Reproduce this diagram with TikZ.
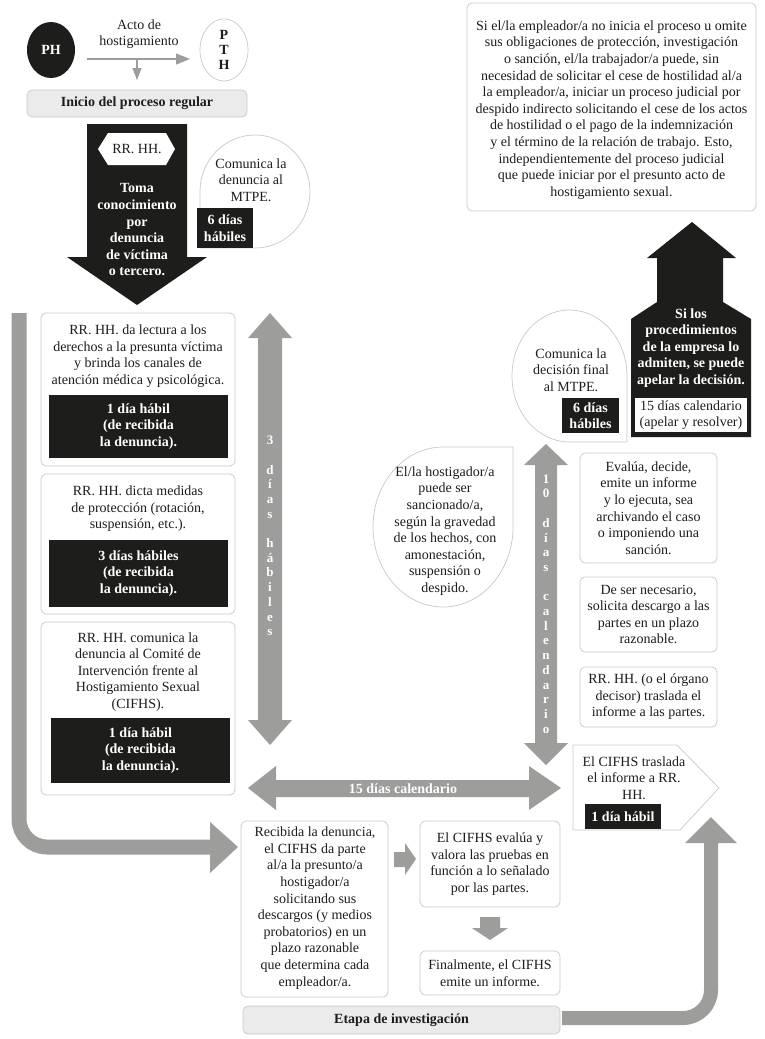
\documentclass[tikz,border=0pt]{standalone}
\usepackage{fontspec}
\setmainfont{Liberation Serif}
\usetikzlibrary{arrows.meta,shapes.geometric}
\definecolor{blk}{HTML}{1D1D1B}
\definecolor{arr}{HTML}{9D9D9C}
\definecolor{brd}{HTML}{C8C8C8}
\definecolor{lgray}{HTML}{EBEBEB}
\definecolor{txtc}{HTML}{1D1D1B}
\newcommand\fsz{\fontsize{14}{16.6}\selectfont}
\begin{document}
\begin{tikzpicture}[x=1pt,y=-1pt,
  every node/.style={inner sep=0pt, outer sep=0pt},
  box/.style={draw=brd, line width=0.7pt, rounded corners=5pt, fill=white},
  gbox/.style={box, fill=lgray},
  kbox/.style={fill=blk, text=white, font=\bfseries\fsz, align=center},
  t/.style={font=\fsz, align=center, text=txtc},
  wt/.style={font=\bfseries\fsz, align=center, text=white},
  vl/.style={font=\bfseries\fontsize{13}{14.7}\selectfont, align=center, text=white},
  shapeline/.style={draw=brd, line width=0.7pt, fill=white},
  thin arrow/.style={line width=1.2pt, draw=arr},
]
\useasboundingbox (0,0) rectangle (764,1039);

% ---------- top ----------
\node[ellipse, fill=blk, minimum width=48, minimum height=56, text=white, font=\bfseries\fsz] (PH) at (51,50) {PH};
\node[ellipse, draw=brd, line width=0.7pt, minimum width=48, minimum height=62, align=center, text=txtc, font=\bfseries\fontsize{14}{15}\selectfont] (PTH) at (224,50) {P\\T\\H};
\node[t] (acto) at (139,34) {Acto de\\hostigamiento};
\node[gbox, minimum width=220, minimum height=27, font=\bfseries\fsz, text=txtc] (inicio) at (137,103.5) {Inicio del proceso regular};
\coordinate (split) at (137,59);
\draw[thin arrow, -{Triangle[length=14pt,width=11pt]}, shorten <=12pt, shorten >=10pt] (PH.east |- split) -- (PTH.west |- split);
\draw[thin arrow, -{Triangle[length=12pt,width=9pt]}, shorten >=10pt] (split) -- (inicio.north);

% ---------- black down arrow ----------
\fill[blk] (87,124) -- (187,124) -- (187,257) -- (207,257) -- (137,305) -- (67,257) -- (87,257) -- cycle;
\fill[white] (98,149) -- (108,133) -- (166,133) -- (175,149) -- (166,165) -- (108,165) -- cycle;
\node[t] (rrhh) at (137,149) {RR. HH.};
\node[wt] (toma) at (137,230) {Toma\\conocimiento\\por\\denuncia\\de víctima\\o tercero.};

% ---------- comunica la denuncia ----------
\draw[shapeline] (200,248) -- (200,191.5) arc[start angle=180, end angle=450, x radius=55, y radius=56.5] -- cycle;
\node[t] (com1) at (251,180) {Comunica la\\denuncia al\\MTPE.};
\node[kbox, minimum width=56, minimum height=40] (d6a) at (225,228) {6 días\\hábiles};

% ---------- top right ----------
\node[box, minimum width=289, minimum height=208] (tr) at (611.5,107) {};
\node[t] (trt) at (611.5,110) {Si el/la empleador/a no inicia el proceso u omite\\sus obligaciones de protección, investigación\\o sanción, el/la trabajador/a puede, sin\\necesidad de solicitar el cese de hostilidad al/a\\la empleador/a, iniciar un proceso judicial por\\despido indirecto solicitando el cese de los actos\\de hostilidad o el pago de la indemnización\\y el término de la relación de trabajo. Esto,\\independientemente del proceso judicial\\que puede iniciar por el presunto acto de\\hostigamiento sexual.};

% ---------- black up arrow ----------
\fill[blk] (692,222) -- (736,258) -- (723,258) -- (723,302) -- (751,319) -- (751,437) -- (631,437) -- (631,319) -- (657,302) -- (657,258) -- (647,258) -- cycle;
\node[wt] (silos) at (691,348) {Si los\\procedimientos\\de la empresa lo\\admiten, se puede\\apelar la decisión.};
\node[fill=white, minimum width=112, minimum height=34, t] (d15) at (691,415) {15 días calendario\\(apelar y resolver)};

% ---------- comunica la decision ----------
\draw[shapeline] (627,442) -- (569.5,442) arc[start angle=90, end angle=360, x radius=57.5, y radius=66] -- cycle;
\node[t] (com2) at (571,370) {Comunica la\\decisión final\\al MTPE.};
\node[kbox, minimum width=57, minimum height=35] (d6b) at (590.5,415.5) {6 días\\hábiles};

% ---------- hostigador ----------
\draw[shapeline] (513,447) -- (513,527) arc[start angle=0, end angle=270, x radius=70, y radius=80] -- cycle;
\node[t] (host) at (445,531) {El/la hostigador/a\\puede ser\\sancionado/a,\\según la gravedad\\de los hechos, con\\amonestación,\\suspensión o\\despido.};

% ---------- 10 dias arrow ----------
\fill[arr] (546,444) -- (568,465) -- (557,465) -- (557,743) -- (568,743) -- (546,765) -- (524,743) -- (535,743) -- (535,465) -- (524,465) -- cycle;
\node[vl] (diez) at (546,604) {1\\0\\\mbox{}\\d\\í\\a\\s\\\mbox{}\\c\\a\\l\\e\\n\\d\\a\\r\\i\\o};

% ---------- right boxes ----------
\node[box, minimum width=137, minimum height=110, t] (ev) at (648.5,508) {Evalúa, decide,\\emite un informe\\y lo ejecuta, sea\\archivando el caso\\o imponiendo una\\sanción.};
\node[box, minimum width=137, minimum height=75, t] (ds) at (648.5,614.5) {De ser necesario,\\solicita descargo a las\\partes en un plazo\\razonable.};
\node[box, minimum width=137, minimum height=60, t] (rr2) at (648.5,697) {RR. HH. (o el órgano\\decisor) traslada el\\informe a las partes.};

% ---------- pentagon ----------
\draw[shapeline] (573,745) -- (677,745) -- (719,788) -- (680,830) -- (573,830) -- cycle;
\node[t] (cif) at (634,778) {El CIFHS traslada\\el informe a RR.\\HH.};
\node[kbox, minimum width=76, minimum height=25] (d1) at (623,816.5) {1 día hábil};

% ---------- 3 dias arrow ----------
\fill[arr] (270,313) -- (292,338) -- (282,338) -- (282,720) -- (292,720) -- (270,745) -- (248,720) -- (258,720) -- (258,338) -- (248,338) -- cycle;
\node[vl] (tres) at (270,536) {3\\\mbox{}\\d\\í\\a\\s\\\mbox{}\\h\\á\\b\\i\\l\\e\\s};

% ---------- left boxes ----------
\node[box, minimum width=194, minimum height=153] (b1) at (138,389.5) {};
\node[t] (b1t) at (138,356) {RR. HH. da lectura a los\\derechos a la presunta víctima\\y brinda los canales de\\atención médica y psicológica.};
\node[kbox, minimum width=179, minimum height=63] (k1) at (138.5,426.5) {1 día hábil\\(de recibida\\la denuncia).};

\node[box, minimum width=194, minimum height=140] (b2) at (138,544) {};
\node[t] (b2t) at (138,509) {RR. HH. dicta medidas\\de protección (rotación,\\suspensión, etc.).};
\node[kbox, minimum width=179, minimum height=67] (k2) at (138.5,573.5) {3 días hábiles\\(de recibida\\la denuncia).};

\node[box, minimum width=194, minimum height=173] (b3) at (138,708.5) {};
\node[t] (b3t) at (138,672) {RR. HH. comunica la\\denuncia al Comité de\\Intervención frente al\\Hostigamiento Sexual\\(CIFHS).};
\node[kbox, minimum width=179, minimum height=65] (k3) at (140.5,750.5) {1 día hábil\\(de recibida\\la denuncia).};

% ---------- 15 dias arrow ----------
\fill[arr] (248,788) -- (276,766) -- (276,780) -- (529,780) -- (529,766) -- (561,788) -- (529,810) -- (529,797) -- (276,797) -- (276,810) -- cycle;
\node[wt] (quince) at (403,789) {15 días calendario};

% ---------- bottom ----------
\node[box, minimum width=147, minimum height=176] (rec) at (314.5,909) {};
\node[t] (rect) at (315,908) {Recibida la denuncia,\\el CIFHS da parte\\al/a la presunto/a\\hostigador/a\\solicitando sus\\descargos (y medios\\probatorios) en un\\plazo razonable\\que determina cada\\empleador/a.};
\node[box, minimum width=140, minimum height=86, t] (ev2) at (490,864) {El CIFHS evalúa y\\valora las pruebas en\\función a lo señalado\\por las partes.};
\node[box, minimum width=140, minimum height=44, t] (fin) at (490,973) {Finalmente, el CIFHS\\emite un informe.};
\node[gbox, minimum width=317, minimum height=28, font=\bfseries\fsz, text=txtc] (etapa) at (401.5,1020) {Etapa de investigación};

\fill[arr] (394,852) -- (405,852) -- (405,843) -- (416,859) -- (405,875) -- (405,867) -- (394,867) -- cycle;
\fill[arr] (480,917) -- (500,917) -- (500,928) -- (508,928) -- (490,940) -- (472,928) -- (480,928) -- cycle;

% ---------- bent arrows ----------
\coordinate (lstart) at (19,313);
\coordinate (lcorner) at (19,847);
\coordinate (lend) at (212,847);
\draw[arr, line width=15pt, rounded corners=28pt] (lstart) -- (lcorner) -- (lend);
\fill[arr] (210,822) -- (238,847) -- (210,873) -- cycle;

\coordinate (rstart) at (562,1018);
\coordinate (rcorner) at (711,1018);
\coordinate (rend) at (711,842);
\draw[arr, line width=14pt, rounded corners=28pt] (rstart) -- (rcorner) -- (rend);
\fill[arr] (685,843) -- (711,817) -- (737,843) -- cycle;
\end{tikzpicture}
\end{document}
